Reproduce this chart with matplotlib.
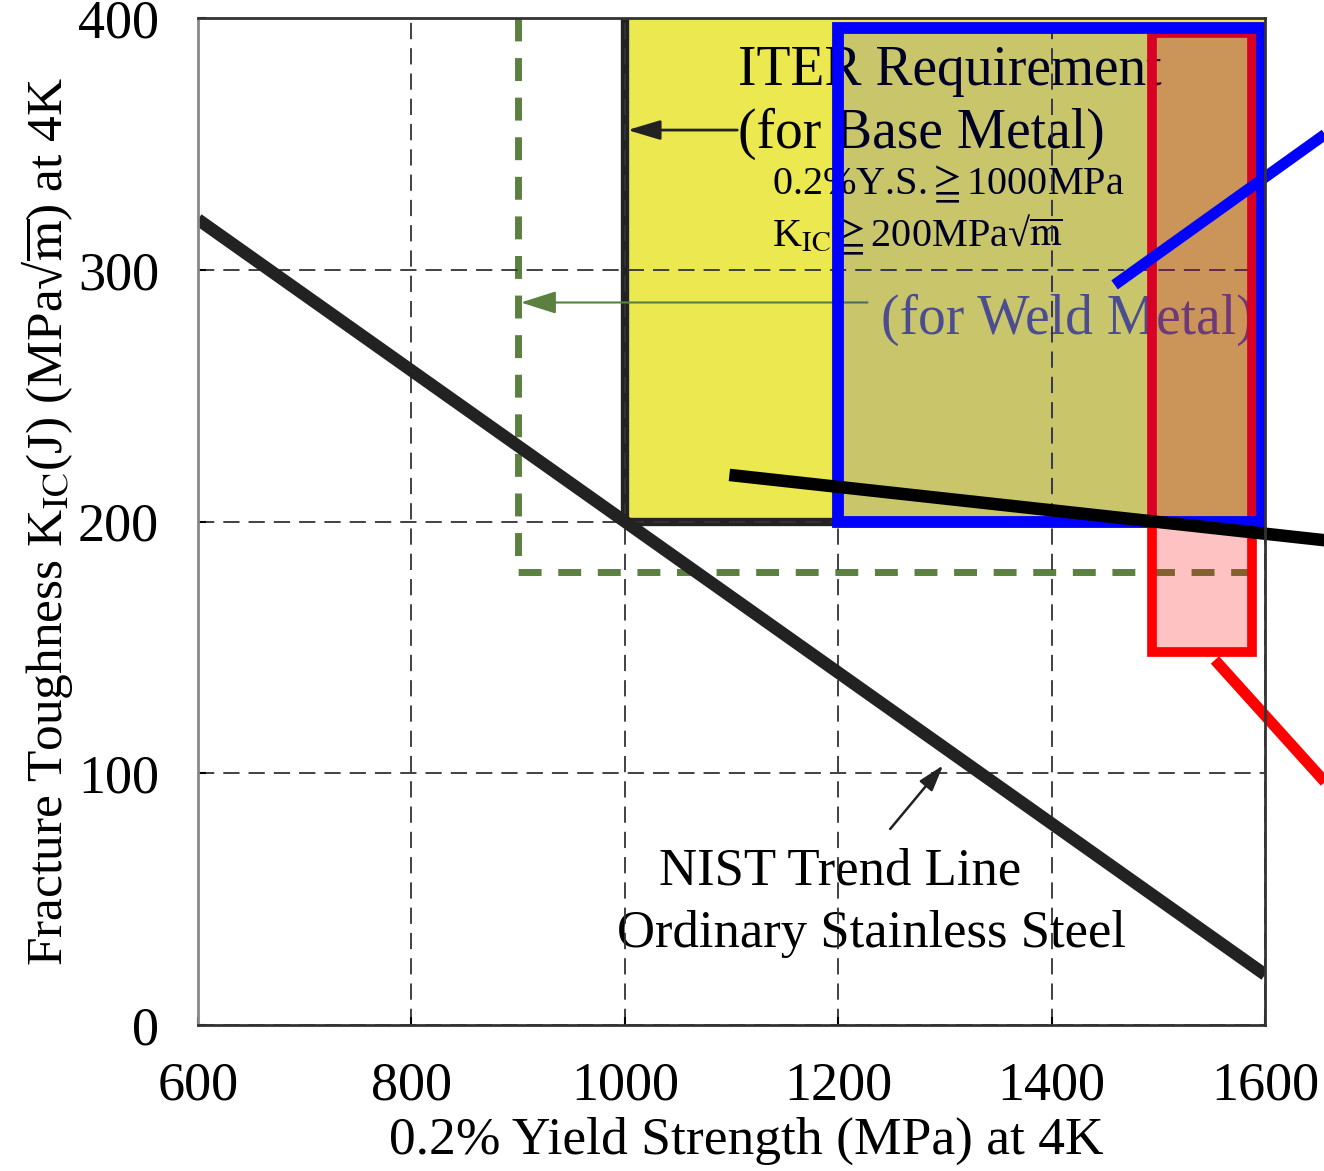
import matplotlib
matplotlib.use("Agg")
import matplotlib.pyplot as plt
from matplotlib.patches import Rectangle

plt.rcParams['font.family'] = ['Liberation Serif', 'DejaVu Serif']
plt.rcParams['mathtext.fontset'] = 'stix'

# NIST trend line for ordinary stainless steel
trend_x = [600, 1600]
trend_y = [320, 20]

# ITER requirement box (base metal) and weld metal box
base_x, base_y = 1000, 200
weld_x, weld_y = 900, 180
# highlighted regions
blue_box = (1200, 200, 1597, 396)
red_box = (1494, 148, 1588, 394)
# pointer lines running off the right edge
black_ptr_x, black_ptr_y = [1098, 1700], [218.5, 190.5]
blue_ptr_x, blue_ptr_y = [1459, 1670], [294, 358]
red_ptr_x, red_ptr_y = [1553, 1670], [145, 90]

xticks = [600, 800, 1000, 1200, 1400, 1600]
yticks = [0, 100, 200, 300, 400]

fig = plt.figure(figsize=(13.24, 11.71), dpi=100)
ax = fig.add_axes([0.1495, 0.1247, 0.806, 0.8599])
ax.set_xlim(600, 1600)
ax.set_ylim(0, 400)

# yellow base metal region
ax.add_patch(Rectangle((base_x, base_y), 1600 - base_x, 400 - base_y,
                       facecolor='#ebe850', edgecolor='none', zorder=0.5))
ax.plot([base_x, base_x, 1600], [400, base_y, base_y], color='#222222', lw=6, zorder=2,
        solid_capstyle='butt')

ax.set_xticks(xticks)
ax.set_yticks(yticks)
ax.grid(True, color='#333333', linestyle=(0, (9, 5)), lw=1.3, zorder=1)
ax.set_axisbelow(False)
for gl in ax.get_xgridlines() + ax.get_ygridlines():
    gl.set_zorder(1)

# weld metal (green dashed)
ax.plot([weld_x, weld_x, 1600], [400, weld_y, weld_y], color='#5b8040', lw=5,
        linestyle=(0, (3.3, 2.4)), zorder=2)

# trend line
ax.plot(trend_x, trend_y, color='#222222', lw=9, zorder=3, solid_capstyle='butt')

# texts
ax.text(1305, 379, 'ITER Requirement', fontsize=40, ha='center', va='center', zorder=2.5)
ax.text(1278, 354, '(for Base Metal)', fontsize=40, ha='center', va='center', zorder=2.5)
ax.text(1138, 334, r'0.2%Y.S.$\geqq$1000MPa', fontsize=29, ha='left', va='center', zorder=2.5)
ax.text(1138, 314, r'K$_{\rm IC}$$\geqq$200MPa√$\overline{\rm m}$', fontsize=29, ha='left',
        va='center', zorder=2.5)
ax.text(1240, 280, '(for Weld Metal)', fontsize=40, ha='left', va='center', color='#5a5a7e',
        zorder=2.5)
ax.text(1202, 61, 'NIST Trend Line', fontsize=38, ha='center', va='center', zorder=2.5)
ax.text(1231, 36, 'Ordinary Stainless Steel', fontsize=38, ha='center', va='center', zorder=2.5)

# arrows
ax.annotate('', xy=(base_x, 355.5), xytext=(1108, 355.5),
            arrowprops=dict(arrowstyle='-|>,head_length=2.0,head_width=0.6', color='#222222',
                            lw=2), zorder=2.6)
ax.annotate('', xy=(weld_x, 287), xytext=(1230, 287),
            arrowprops=dict(arrowstyle='-|>,head_length=2.2,head_width=0.7', color='#5b8040',
                            lw=1.5), zorder=2.6)
ax.annotate('', xy=(1300, 104), xytext=(1247, 77),
            arrowprops=dict(arrowstyle='-|>,head_length=1.6,head_width=0.5', color='#222222',
                            lw=1.8), zorder=2.6)

# red region
x0, y0, x1, y1 = red_box
ax.add_patch(Rectangle((x0, y0), x1 - x0, y1 - y0, facecolor=(1, 0, 0, 0.24),
                       edgecolor='red', lw=7, zorder=4))
# blue region
x0, y0, x1, y1 = blue_box
ax.add_patch(Rectangle((x0, y0), x1 - x0, y1 - y0, facecolor=(0, 0, 1, 0.15),
                       edgecolor='none', zorder=5))
ax.add_patch(Rectangle((x0, y0), x1 - x0, y1 - y0, facecolor='none',
                       edgecolor='blue', lw=8.5, zorder=6))

# pointer lines
ax.plot(black_ptr_x, black_ptr_y, color='black', lw=9, zorder=7, clip_on=False,
        solid_capstyle='butt')
ax.plot(blue_ptr_x, blue_ptr_y, color='blue', lw=8, zorder=7, clip_on=False,
        solid_capstyle='butt')
ax.plot(red_ptr_x, red_ptr_y, color='red', lw=8, zorder=7, clip_on=False,
        solid_capstyle='butt')

ax.tick_params(direction='in', length=6, width=1.5, labelsize=39)
ax.tick_params(axis='x', pad=26)
ax.tick_params(axis='y', pad=28)
for s in ax.spines.values():
    s.set_linewidth(2)
    s.set_color('#333333')
    s.set_zorder(8)
ax.spines['left'].set_color('#888888')

ax.set_xlabel('0.2% Yield Strength (MPa) at 4K', fontsize=38.5, labelpad=4)
ax.xaxis.label.set_x(0.514)
ax.set_ylabel(r'Fracture Toughness K$_{\rm IC}$(J) (MPa√$\overline{\rm m}$) at 4K',
              fontsize=37, labelpad=2)

fig.savefig('out.png', dpi=100)
